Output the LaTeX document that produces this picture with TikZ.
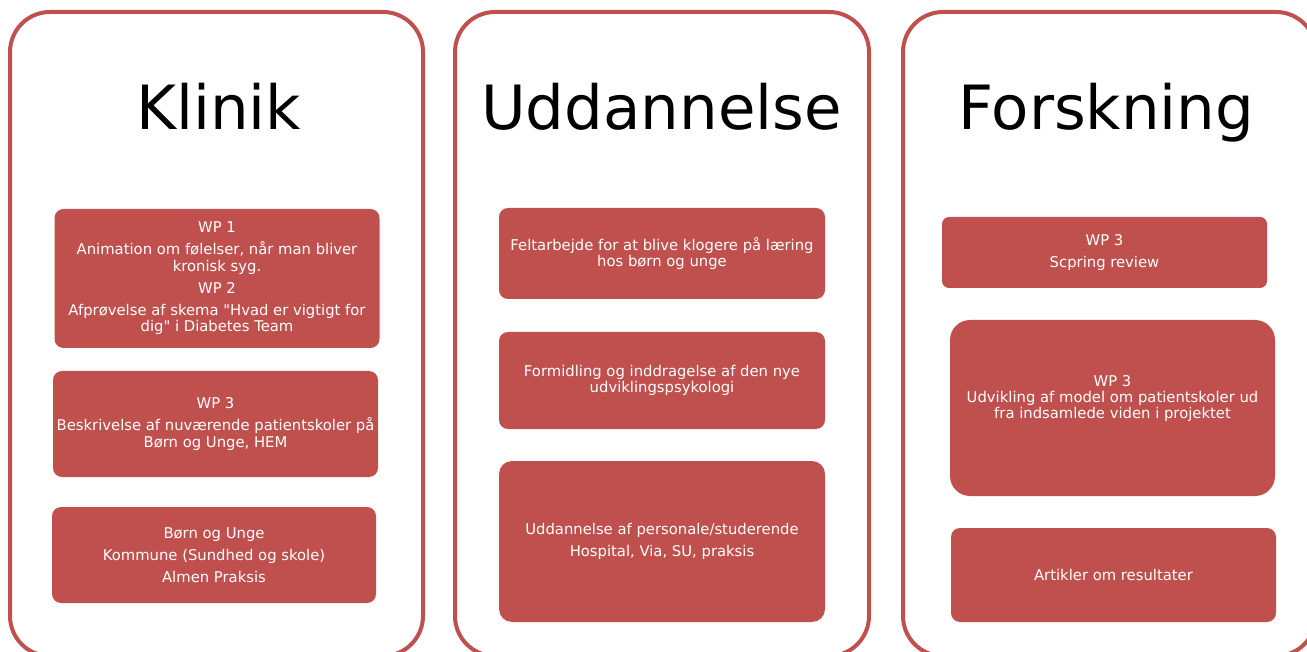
\documentclass[tikz,border=0pt]{standalone}
\usepackage{fontspec}
\setmainfont{DejaVu Sans}[Ligatures=TeXOff]
\usetikzlibrary{positioning}
\definecolor{wpred}{HTML}{C0504D}

\begin{document}
\begin{tikzpicture}[x=1pt, y=-1pt,
  frame/.style = {draw=wpred, line width=4pt, rounded corners=40pt},
  title/.style = {anchor=base, inner sep=0pt, font=\fontsize{61}{70}\selectfont},
  wp/.style = {fill=wpred, text=white, rounded corners=9pt, align=center, inner sep=0pt, font=\fontsize{14.8}{16.8}\selectfont}]
\useasboundingbox (0,0) rectangle (1307,652);

% columns
\draw[frame] (10,12) rectangle (423,656);
\draw[frame] (455,12) rectangle (869,656);
\draw[frame] (903,12) rectangle (1316,656);

\node[title] (klinik) at (218.5,130) {Klinik};
\node[title] (uddannelse) at (661.5,130) {Uddannelse};
\node[title] (forskning) at (1106.5,130) {Forskning};

% Klinik
\node[wp, minimum width=325pt, minimum height=139pt] (k1) at (217,278.5)
  {WP 1\\[5pt] Animation om følelser, når man bliver\\ kronisk syg.\\[5pt] WP 2\\[5pt] Afprøvelse af skema "Hvad er vigtigt for\\ dig" i Diabetes Team};
\node[wp, minimum width=325pt, minimum height=106pt] (k2) at (215.5,424)
  {WP 3\\[5pt] Beskrivelse af nuværende patientskoler på\\ Børn og Unge, HEM};
\node[wp, minimum width=324pt, minimum height=96pt] (k3) at (214,555)
  {Børn og Unge\\[5pt] Kommune (Sundhed og skole)\\[5pt] Almen Praksis};

% Uddannelse
\node[wp, minimum width=326pt, minimum height=91pt] (u1) at (662,253.5)
  {Feltarbejde for at blive klogere på læring\\ hos børn og unge};
\node[wp, minimum width=326pt, minimum height=97pt] (u2) at (662,380.5)
  {Formidling og inddragelse af den nye\\ udviklingspsykologi};
\node[wp, minimum width=326pt, minimum height=161pt, rounded corners=13pt] (u3) at (662,541.5)
  {Uddannelse af personale/studerende\\[5pt] Hospital, Via, SU, praksis};

% Forskning
\node[wp, minimum width=325pt, minimum height=71pt, rounded corners=7pt] (f1) at (1104.5,252.5)
  {WP 3\\[5pt] Scpring review};
\node[wp, minimum width=325pt, minimum height=176pt, rounded corners=20pt] (f2) at (1112.5,408) {};
\node[font=\fontsize{14.8}{16}\selectfont, text=white, align=center, inner sep=0pt] (f2txt) at (1112.5,399)
  {WP 3\\ Udvikling af model om patientskoler ud\\ fra indsamlede viden i projektet};
\node[wp, minimum width=325pt, minimum height=94pt] (f3) at (1113.5,575)
  {Artikler om resultater};
\end{tikzpicture}
\end{document}
